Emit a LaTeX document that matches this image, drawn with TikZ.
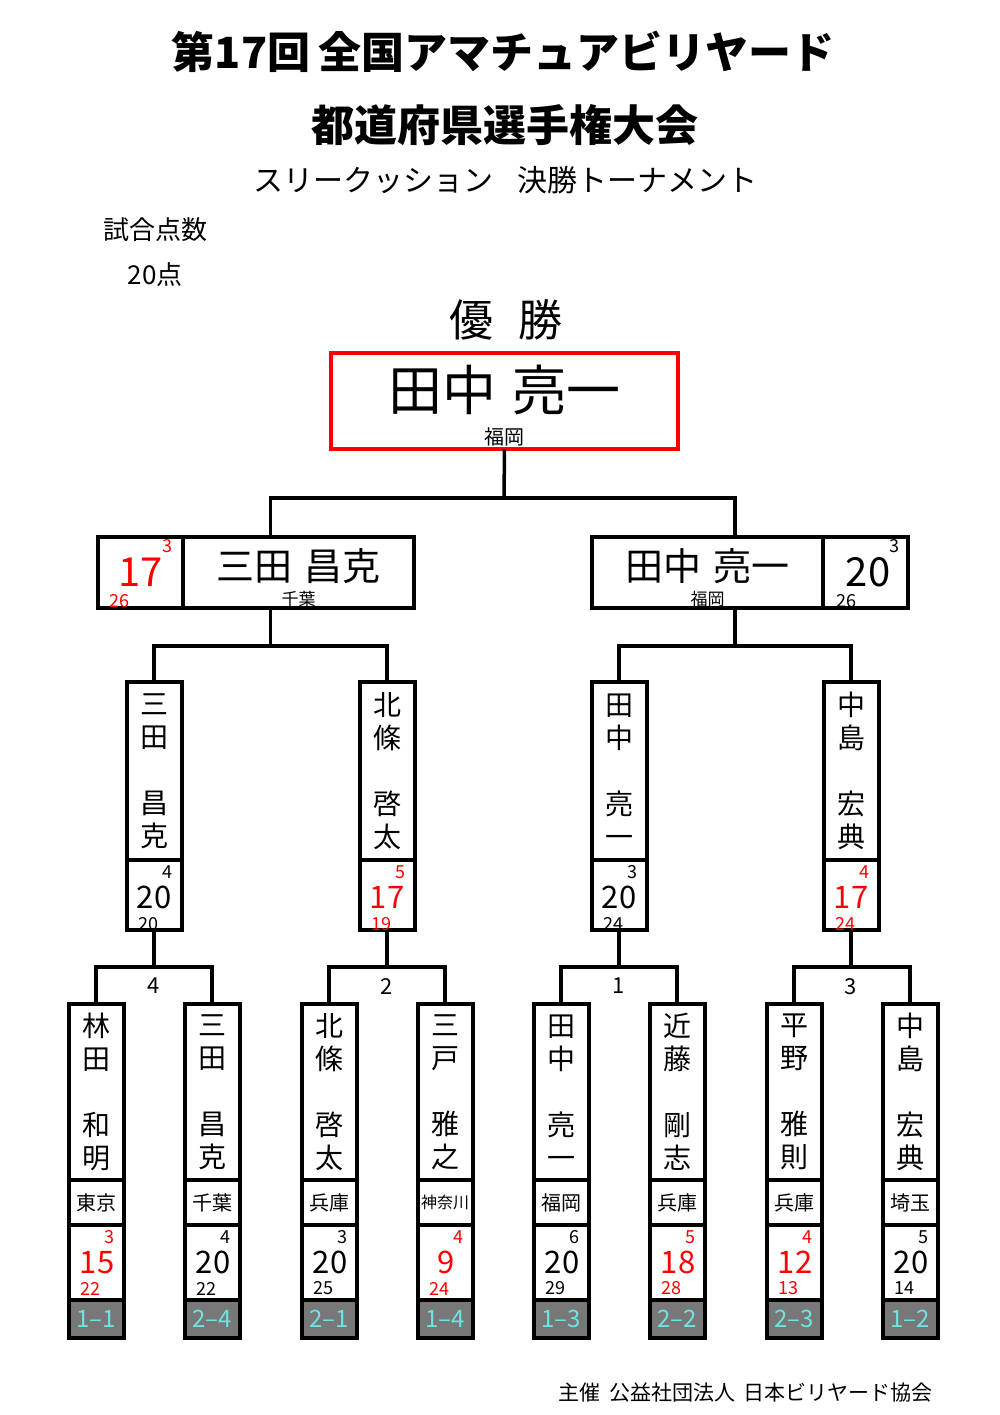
\documentclass[tikz,border=0pt]{standalone}
\usepackage{fontspec}
\setmainfont{Noto Sans CJK JP}
\usepackage{tikz}
\usetikzlibrary{positioning}

\definecolor{tagfill}{HTML}{787878}
\definecolor{tagtext}{HTML}{6FE3E3}

\begin{document}
\begin{tikzpicture}[x=1pt, y=-1pt,
    box/.style={rectangle, draw, line width=4pt, outer sep=0pt, inner sep=0pt},
    wire/.style={line width=3.5pt},
    namebox/.style={box, minimum width=55pt, minimum height=176pt, align=center, font=\fontsize{28}{33}\selectfont},
    qfbox/.style={box, minimum width=55pt, minimum height=178pt, align=center, font=\fontsize{28}{33}\selectfont},
    prefbox/.style={box, minimum width=55pt, minimum height=45pt, font=\fontsize{20}{20}\selectfont},
    scorebox/.style={box, minimum width=55pt, minimum height=75pt},
    qfscore/.style={box, minimum width=55pt, minimum height=70pt},
    tagbox/.style={box, fill=tagfill, text=tagtext, minimum width=55pt, minimum height=38pt, font=\fontsize{24}{24}\selectfont},
    semibox/.style={box, minimum width=231pt, minimum height=71pt},
    semiscore/.style={box, minimum width=85pt, minimum height=71pt},
    scoretop/.style={inner sep=0pt, font=\fontsize{18}{18}\selectfont, xshift=13pt, yshift=25pt},
    scorebig/.style={inner sep=0pt, font=\fontsize{31}{31}\selectfont, xshift=1pt},
    scorebot/.style={inner sep=0pt, font=\fontsize{18}{18}\selectfont, xshift=-6pt, yshift=-26pt},
    roundno/.style={inner sep=0pt, font=\fontsize{22}{22}\selectfont}]

    \useasboundingbox (0,0) rectangle (1000,1415);

    % titles
    \node (title1) at (503,52) {\fontsize{43}{43}\selectfont\bfseries 第17回\hspace{0.2em}全国アマチュアビリヤード};
    \node (title2) at (505,125) {\fontsize{43}{43}\selectfont\bfseries 都道府県選手権大会};
    \node (title3) at (505,180) {\fontsize{30}{30}\selectfont スリークッション\hspace{0.8em}決勝トーナメント};
    \node (rule1) at (155,230) {\fontsize{26}{26}\selectfont 試合点数};
    \node (rule2) at (155,275) {\fontsize{26}{26}\selectfont 20点};
    \node (winner) at (506,320) {\fontsize{44}{44}\selectfont 優\hspace{0.55em}勝};

    % champion
    \node (champ) [box, draw=red, line width=4.5pt, minimum width=347pt, minimum height=96pt] at (504.5,401) {};
    \node [inner sep=0pt, font=\fontsize{54}{54}\selectfont] at ([yshift=11pt]champ.center) {田中\hspace{0.3em}亮一};
    \node [inner sep=0pt, anchor=south, font=\fontsize{20}{20}\selectfont] at ([yshift=3pt]champ.south) {福岡};

    % semi finals
    \node (sLscore) [semiscore] at (140.5,572.5) {};
    \node (sLname) [semibox, right=0pt of sLscore] {};
    \node [inner sep=0pt, font=\fontsize{38}{38}\selectfont] at ([yshift=6.5pt]sLname.center) {三田\hspace{0.3em}昌克};
    \node [inner sep=0pt, anchor=south, font=\fontsize{17}{17}\selectfont] at ([yshift=1pt]sLname.south) {千葉};
    \node [inner sep=0pt, red, font=\fontsize{40}{40}\selectfont] at (sLscore.center) {17};
    \node [inner sep=0pt, red, font=\fontsize{18}{18}\selectfont] at ([xshift=26.5pt, yshift=26.5pt]sLscore.center) {3};
    \node [inner sep=0pt, red, font=\fontsize{18}{18}\selectfont] at ([xshift=-21.5pt, yshift=-28.5pt]sLscore.center) {26};

    \node (sRname) [semibox] at (707.5,572.5) {};
    \node (sRscore) [semiscore, right=0pt of sRname] {};
    \node [inner sep=0pt, font=\fontsize{38}{38}\selectfont] at ([yshift=6.5pt]sRname.center) {田中\hspace{0.3em}亮一};
    \node [inner sep=0pt, anchor=south, font=\fontsize{17}{17}\selectfont] at ([yshift=1pt]sRname.south) {福岡};
    \node [inner sep=0pt, font=\fontsize{40}{40}\selectfont] at ([xshift=2.5pt]sRscore.center) {20};
    \node [inner sep=0pt, font=\fontsize{18}{18}\selectfont] at ([xshift=28.5pt, yshift=26.5pt]sRscore.center) {3};
    \node [inner sep=0pt, font=\fontsize{18}{18}\selectfont] at ([xshift=-19.5pt, yshift=-28.5pt]sRscore.center) {26};

    % quarter finals
    \node (q1) [qfbox] at (154,771) {三\\田\\[33pt]昌\\克};
    \node (q1score) [qfscore, below=0pt of q1] {};
    \node [scoretop, yshift=-2pt] at (q1score) {4};
    \node [scorebig, xshift=-1pt, yshift=-2pt] at (q1score) {20};
    \node [scorebot, yshift=-3pt] at (q1score) {20};

    \node (q2) [qfbox] at (387,771) {北\\條\\[33pt]啓\\太};
    \node (q2score) [qfscore, below=0pt of q2] {};
    \node [scoretop, red, yshift=-2pt] at (q2score) {5};
    \node [scorebig, red, xshift=-1pt, yshift=-2pt] at (q2score) {17};
    \node [scorebot, red, yshift=-3pt] at (q2score) {19};

    \node (q3) [qfbox] at (619,771) {田\\中\\[33pt]亮\\一};
    \node (q3score) [qfscore, below=0pt of q3] {};
    \node [scoretop, yshift=-2pt] at (q3score) {3};
    \node [scorebig, xshift=-1pt, yshift=-2pt] at (q3score) {20};
    \node [scorebot, yshift=-3pt] at (q3score) {24};

    \node (q4) [qfbox] at (851,771) {中\\島\\[33pt]宏\\典};
    \node (q4score) [qfscore, below=0pt of q4] {};
    \node [scoretop, red, yshift=-2pt] at (q4score) {4};
    \node [scorebig, red, xshift=-1pt, yshift=-2pt] at (q4score) {17};
    \node [scorebot, red, yshift=-3pt] at (q4score) {24};

    % first round
    \node (p1) [namebox] at (96,1092) {林\\田\\[33pt]和\\明};
    \node (p1pref) [prefbox, below=0pt of p1] {東京};
    \node (p1score) [scorebox, below=0pt of p1pref] {};
    \node (p1tag) [tagbox, below=0pt of p1score] {1–1};
    \node [scoretop, red] at (p1score) {3};
    \node [scorebig, red] at (p1score) {15};
    \node [scorebot, red] at (p1score) {22};

    \node (p2) [namebox] at (212,1092) {三\\田\\[33pt]昌\\克};
    \node (p2pref) [prefbox, below=0pt of p2] {千葉};
    \node (p2score) [scorebox, below=0pt of p2pref] {};
    \node (p2tag) [tagbox, below=0pt of p2score] {2–4};
    \node [scoretop] at (p2score) {4};
    \node [scorebig] at (p2score) {20};
    \node [scorebot] at (p2score) {22};

    \node (p3) [namebox] at (329,1092) {北\\條\\[33pt]啓\\太};
    \node (p3pref) [prefbox, below=0pt of p3] {兵庫};
    \node (p3score) [scorebox, below=0pt of p3pref] {};
    \node (p3tag) [tagbox, below=0pt of p3score] {2–1};
    \node [scoretop] at (p3score) {3};
    \node [scorebig] at (p3score) {20};
    \node [scorebot] at (p3score) {25};

    \node (p4) [namebox] at (445,1092) {三\\戸\\[33pt]雅\\之};
    \node (p4pref) [prefbox, below=0pt of p4, font=\fontsize{16}{16}\selectfont] {神奈川};
    \node (p4score) [scorebox, below=0pt of p4pref] {};
    \node (p4tag) [tagbox, below=0pt of p4score] {1–4};
    \node [scoretop, red] at (p4score) {4};
    \node [scorebig, red] at (p4score) {9};
    \node [scorebot, red] at (p4score) {24};

    \node (p5) [namebox] at (561,1092) {田\\中\\[33pt]亮\\一};
    \node (p5pref) [prefbox, below=0pt of p5] {福岡};
    \node (p5score) [scorebox, below=0pt of p5pref] {};
    \node (p5tag) [tagbox, below=0pt of p5score] {1–3};
    \node [scoretop] at (p5score) {6};
    \node [scorebig] at (p5score) {20};
    \node [scorebot] at (p5score) {29};

    \node (p6) [namebox] at (677,1092) {近\\藤\\[33pt]剛\\志};
    \node (p6pref) [prefbox, below=0pt of p6] {兵庫};
    \node (p6score) [scorebox, below=0pt of p6pref] {};
    \node (p6tag) [tagbox, below=0pt of p6score] {2–2};
    \node [scoretop, red] at (p6score) {5};
    \node [scorebig, red] at (p6score) {18};
    \node [scorebot, red] at (p6score) {28};

    \node (p7) [namebox] at (794,1092) {平\\野\\[33pt]雅\\則};
    \node (p7pref) [prefbox, below=0pt of p7] {兵庫};
    \node (p7score) [scorebox, below=0pt of p7pref] {};
    \node (p7tag) [tagbox, below=0pt of p7score] {2–3};
    \node [scoretop, red] at (p7score) {4};
    \node [scorebig, red] at (p7score) {12};
    \node [scorebot, red] at (p7score) {13};

    \node (p8) [namebox] at (910,1092) {中\\島\\[33pt]宏\\典};
    \node (p8pref) [prefbox, below=0pt of p8] {埼玉};
    \node (p8score) [scorebox, below=0pt of p8pref] {};
    \node (p8tag) [tagbox, below=0pt of p8score] {1–2};
    \node [scoretop] at (p8score) {5};
    \node [scorebig] at (p8score) {20};
    \node [scorebot] at (p8score) {14};

    % junctions
    \coordinate (m0) at (504,498);
    \coordinate (m1) at (270.5,646);
    \coordinate (m2) at (735,646);
    \coordinate (r1) at (154,967);
    \coordinate (r2) at (387,967);
    \coordinate (r3) at (619,967);
    \coordinate (r4) at (851,967);

    \draw [wire] (champ.south) -- (m0);
    \draw [wire] (m1 |- sLname.north) |- (m0) -| (m2 |- sRname.north);
    \draw [wire] (q1.north) |- (m1) -| (q2.north);
    \draw [wire] (m1) -- (m1 |- sLname.south);
    \draw [wire] (q3.north) |- (m2) -| (q4.north);
    \draw [wire] (m2) -- (m2 |- sRname.south);

    \draw [wire] (p1.north) |- (r1) -| (p2.north);
    \draw [wire] (r1) -- (q1score.south);
    \draw [wire] (p3.north) |- (r2) -| (p4.north);
    \draw [wire] (r2) -- (q2score.south);
    \draw [wire] (p5.north) |- (r3) -| (p6.north);
    \draw [wire] (r3) -- (q3score.south);
    \draw [wire] (p7.north) |- (r4) -| (p8.north);
    \draw [wire] (r4) -- (q4score.south);

    \node [roundno, below=11pt of r1] {4};
    \node [roundno, below=11pt of r2] {2};
    \node [roundno, below=11pt of r3] {1};
    \node [roundno, below=11pt of r4] {3};

    % footer
    \node (host) [anchor=east, font=\fontsize{21}{21}\selectfont] at (936,1393) {主催\hspace{0.4em}公益社団法人\hspace{0.4em}日本ビリヤード協会};
\end{tikzpicture}
\end{document}
